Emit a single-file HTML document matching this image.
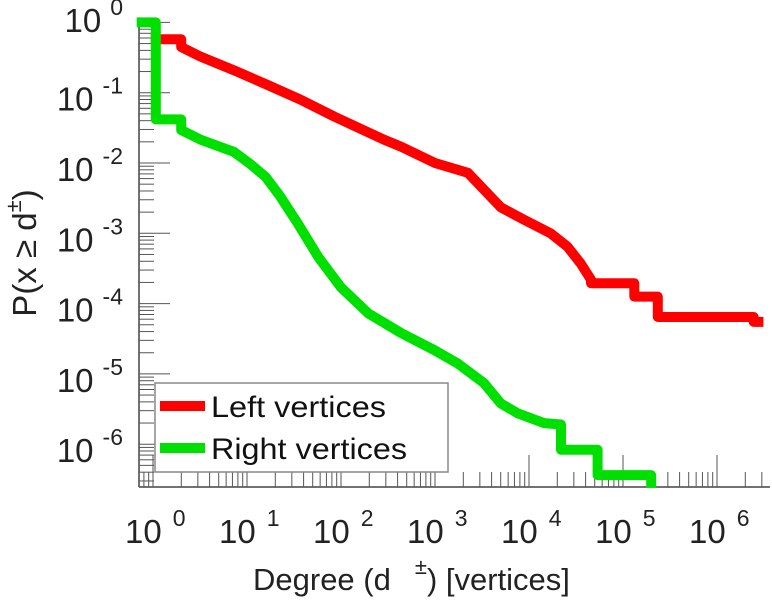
<!DOCTYPE html>
<html><head><meta charset="utf-8"><style>
html,body{margin:0;padding:0;background:#fff;}
svg{display:block;font-family:"Liberation Sans",Arial,sans-serif;}
</style></head><body>
<svg id="chart" width="772" height="600" viewBox="0 0 772 600" xmlns="http://www.w3.org/2000/svg">
<g id="axes"></g>
<g id="series"></g>
<g id="legend">
  <rect x="155" y="383" width="293" height="89" fill="#fff" stroke="#888" stroke-width="1.5"/>
  <line x1="160" y1="406" x2="205" y2="406" stroke="#ff0000" stroke-width="10"/>
  <text x="211" y="417" font-size="30" fill="#111" textLength="175" lengthAdjust="spacingAndGlyphs">Left vertices</text>
  <line x1="160" y1="448" x2="205" y2="448" stroke="#00e000" stroke-width="10"/>
  <text x="211" y="459" font-size="30" fill="#111" textLength="196" lengthAdjust="spacingAndGlyphs">Right vertices</text>
</g>
<text x="253" y="590" font-size="31" fill="#222">Degree (d<tspan dx="24" dy="-16" font-size="22">±</tspan><tspan dy="16">) [vertices]</tspan></text>
<text transform="translate(36,253) rotate(-90)" text-anchor="middle" font-size="33" fill="#222">P(x ≥ d<tspan dy="-15" font-size="22">±</tspan><tspan dy="15">)</tspan></text>
</svg>
<script>
// data (log10 values)
const leftLogDegree = [0.03,0.3,0.3,0.51,0.86,1.22,1.57,1.93,2.46,2.64,3.0,3.35,3.7,3.95,4.23,4.41,4.55,4.66,4.66,5.12,5.12,5.37,5.37,6.39,6.39,6.44];
const leftLogP      = [-0.24,-0.24,-0.35,-0.49,-0.68,-0.89,-1.1,-1.34,-1.67,-1.77,-2.0,-2.14,-2.63,-2.81,-3.0,-3.19,-3.43,-3.66,-3.71,-3.71,-3.9,-3.9,-4.19,-4.19,-4.26,-4.26];
const rightLogDegree = [-0.12,0.03,0.03,0.3,0.3,0.51,0.86,1.04,1.2,1.35,1.54,1.76,2.0,2.29,2.64,2.99,3.24,3.52,3.7,3.88,4.16,4.34,4.34,4.73,4.73,5.3,5.3];
const rightLogP      = [0,0,-1.38,-1.38,-1.53,-1.67,-1.84,-2.02,-2.2,-2.47,-2.86,-3.34,-3.77,-4.14,-4.42,-4.66,-4.85,-5.13,-5.42,-5.56,-5.7,-5.72,-6.08,-6.08,-6.44,-6.44,-6.55];
const xTickExps = [0,1,2,3,4,5,6];
const yTickExps = [0,-1,-2,-3,-4,-5,-6];

const NS='http://www.w3.org/2000/svg';
const X0=153, XS=94, Y0=22.4, YS=70.3;
const xLogMin=-0.15, xLogMax=6.6, yLogMax=0.06, yLogMin=-6.63;
function sx(l){return X0+l*XS;}
function sy(l){return Y0-l*YS;}
function mk(t,a,p){const e=document.createElementNS(NS,t);for(const k in a)e.setAttribute(k,a[k]);p.appendChild(e);return e;}
const axes=document.getElementById('axes');
const AX=139, AY=487;
let el=mk('line',{x1:AX,y1:sy(yLogMax),x2:AX,y2:AY,stroke:'#444','stroke-width':1.5},axes);


el=mk('line',{x1:AX,y1:AY,x2:770,y2:AY,stroke:'#444','stroke-width':1.5},axes);


for(let d=-1;d<=7;d++){for(let m=1;m<=9;m++){const l=d+Math.log10(m);if(l<xLogMin||l>xLogMax)continue;const x=sx(l);
 el=mk('line',{x1:x,y1:AY,x2:x,y2:AY-(m===1?32:15),stroke:'#555','stroke-width':1},axes);
 
 }}
for(let d=-7;d<=0;d++){for(let m=1;m<=9;m++){const l=d+Math.log10(m);if(l<yLogMin||l>yLogMax)continue;const y=sy(l);
 el=mk('line',{x1:AX,y1:y,x2:AX+(m===1?31:15),y2:y,stroke:'#555','stroke-width':1},axes);
 
 }}
xTickExps.forEach(e=>{const t=mk('text',{x:sx(e)-28,y:543,'font-size':33,fill:'#222'},axes);t.textContent='10';
 const s=mk('tspan',{dx:11,dy:-17,'font-size':23},t);s.textContent=String(e);
 
 });
yTickExps.forEach(e=>{const y=e===0?32:sy(e)+18;const t=mk('text',{x:123,y:y,'font-size':33,fill:'#222','text-anchor':'end'},axes);t.textContent='10';
 const s=mk('tspan',{dx:9,dy:-17,'font-size':23},t);s.textContent=String(e);
 
 });
const ser=document.getElementById('series');
function draw(lx,ly,col,name){const pts=lx.map((v,i)=>sx(v).toFixed(1)+','+sy(ly[i]).toFixed(1)).join(' ');
 const p=mk('polyline',{points:pts,fill:'none',stroke:col,'stroke-width':10,'stroke-linejoin':'round','stroke-linecap':'square'},ser);
 
 }
draw(leftLogDegree,leftLogP,'#ff0000','left-vertices-line');
draw(rightLogDegree,rightLogP,'#00e000','right-vertices-line');
</script>
</body></html>
